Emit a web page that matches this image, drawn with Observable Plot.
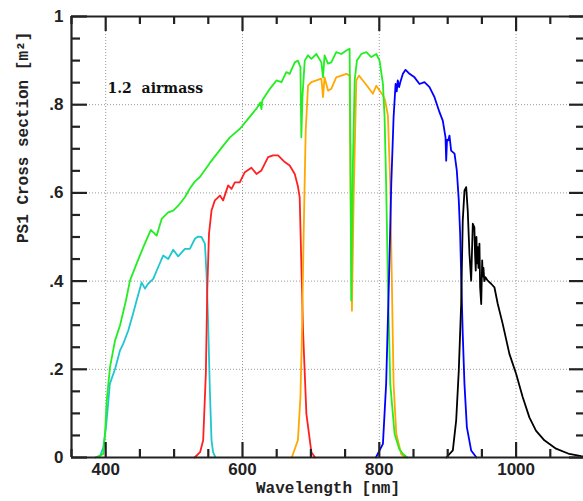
<!DOCTYPE html>
<html><head><meta charset="utf-8">
<script src="https://cdn.jsdelivr.net/npm/d3@7"></script>
<script src="https://cdn.jsdelivr.net/npm/@observablehq/plot@0.6"></script>
<style>body{margin:0;background:#fff} svg{display:block}</style>
</head><body><div id="chart"></div>
<script>
// g (cyan)
const gWave = [385, 392, 396.5, 400.4, 404, 406, 413.6, 421, 425.7, 433, 440, 445, 452.5, 457.4, 462, 469.5, 476.8, 484, 491.4, 498.7, 506, 515.8, 523, 530.4, 535, 540, 545, 547.4, 549.8, 552.3, 554.7, 557, 560];
const gVal  = [0, 0.004, 0.023, 0.069, 0.129, 0.167, 0.2, 0.243, 0.258, 0.288, 0.326, 0.355, 0.397, 0.383, 0.394, 0.405, 0.432, 0.458, 0.45, 0.471, 0.456, 0.473, 0.473, 0.496, 0.501, 0.5, 0.485, 0.417, 0.303, 0.152, 0.039, 0.012, 0.002];
// r (red)
const rWave = [530, 538, 542.5, 546.4, 548.5, 551, 554.7, 559.6, 567, 571.7, 579, 584, 588.8, 596, 603.4, 613, 620.4, 627.7, 637.4, 644.7, 652, 661.8, 669, 676.4, 681, 683.6, 686, 688.5, 693.4, 700.7, 706];
const rVal  = [0, 0.012, 0.039, 0.19, 0.38, 0.507, 0.56, 0.583, 0.594, 0.583, 0.617, 0.609, 0.624, 0.624, 0.647, 0.657, 0.643, 0.651, 0.681, 0.685, 0.685, 0.67, 0.662, 0.643, 0.615, 0.59, 0.44, 0.288, 0.099, 0.012, 0];
// i (orange)
const iWave = [672, 681, 684.7, 687, 689.5, 692.4, 695.8, 700.7, 708, 715.3, 717.7, 720, 725, 729.8, 737, 744.5, 751.8, 756.6, 758, 760, 762.5, 766.4, 770.2, 776, 783.4, 790.6, 795.6, 800.4, 805, 808.5, 812.6, 816, 818.4, 820.9, 824.8, 832, 838];
const iVal  = [0, 0.039, 0.137, 0.288, 0.515, 0.741, 0.843, 0.851, 0.855, 0.859, 0.817, 0.862, 0.832, 0.836, 0.862, 0.866, 0.87, 0.866, 0.6, 0.333, 0.59, 0.855, 0.866, 0.855, 0.84, 0.825, 0.843, 0.832, 0.822, 0.81, 0.775, 0.62, 0.394, 0.167, 0.054, 0.008, 0];
// w (green)
const wWave = [385, 390, 396.5, 399, 401.5, 406.3, 413.6, 421, 429.6, 435.5, 445, 455, 466, 470, 474.5, 481.8, 491.4, 498.7, 506, 515.8, 523, 530, 537.7, 552.3, 569.3, 581.5, 596, 606, 620.4, 626, 627.7, 629, 640, 649.6, 657, 664, 669, 676.4, 681, 684.7, 686, 687.6, 691, 695.8, 700.7, 708, 715.3, 717.7, 720, 725, 729.8, 737, 744.5, 751.8, 756.6, 757.8, 759, 760, 761.4, 764, 767.3, 773.7, 781, 788.3, 795.6, 800.4, 805.3, 807.7, 810, 812.6, 816, 822.3, 829, 834.5, 841];
const wVal  = [0, 0.003, 0.008, 0.054, 0.129, 0.205, 0.265, 0.3, 0.356, 0.401, 0.439, 0.477, 0.516, 0.51, 0.503, 0.541, 0.556, 0.56, 0.571, 0.59, 0.61, 0.625, 0.636, 0.668, 0.702, 0.726, 0.745, 0.764, 0.791, 0.805, 0.79, 0.81, 0.836, 0.855, 0.851, 0.874, 0.87, 0.896, 0.9, 0.885, 0.726, 0.817, 0.9, 0.912, 0.904, 0.915, 0.896, 0.862, 0.912, 0.893, 0.896, 0.919, 0.915, 0.923, 0.927, 0.7, 0.356, 0.5, 0.666, 0.855, 0.9, 0.915, 0.919, 0.908, 0.915, 0.9, 0.847, 0.772, 0.62, 0.394, 0.167, 0.054, 0.02, 0.008, 0];
// z (blue)
const zWave = [795, 805.3, 810, 814, 817.5, 820.9, 823.8, 825.5, 827, 829, 830.7, 834.5, 838.4, 844.2, 851.5, 858.8, 866, 873.4, 880.7, 888, 892.8, 896.8, 897.8, 899, 900.7, 902.6, 905, 910, 913.3, 916.2, 918.2, 920, 922, 924.5, 928, 934.3, 942];
const zVal  = [0, 0.031, 0.167, 0.394, 0.62, 0.772, 0.847, 0.83, 0.855, 0.84, 0.851, 0.87, 0.879, 0.87, 0.862, 0.847, 0.851, 0.84, 0.817, 0.783, 0.764, 0.726, 0.673, 0.72, 0.719, 0.73, 0.696, 0.689, 0.651, 0.583, 0.507, 0.394, 0.28, 0.167, 0.069, 0.016, 0];
// y (black)
const yWave = [898, 907.5, 912.4, 916.2, 919.7, 922, 924.5, 927, 929.3, 931.8, 934.3, 936.7, 939, 940, 941, 942, 943, 944, 945, 946.4, 947.4, 949, 950.4, 951.3, 952.3, 953.5, 955.2, 958.5, 963.5, 968.3, 973.2, 980.4, 990.2, 1000, 1009.6, 1019.4, 1029, 1041.3, 1058.4, 1077.8, 1095, 1100];
const yVal  = [0, 0.016, 0.084, 0.197, 0.348, 0.537, 0.605, 0.613, 0.56, 0.462, 0.401, 0.53, 0.522, 0.46, 0.424, 0.5, 0.44, 0.477, 0.43, 0.485, 0.386, 0.348, 0.447, 0.41, 0.43, 0.4, 0.409, 0.401, 0.394, 0.386, 0.348, 0.303, 0.235, 0.19, 0.137, 0.091, 0.061, 0.039, 0.02, 0.008, 0.003, 0.002];

const filterNames  = ["g", "r", "i", "w", "z", "y"];
const filterColors = ["#1fc6d0", "#ff2020", "#ffa800", "#22ee22", "#0000ff", "#000000"];

const xMajor = [400, 600, 800, 1000];
const xMinor = [350, 450, 500, 550, 650, 700, 750, 850, 900, 950, 1050, 1100];
const yMajor = [0, 0.2, 0.4, 0.6, 0.8, 1];
const yMinor = [0.05, 0.1, 0.15, 0.25, 0.3, 0.35, 0.45, 0.5, 0.55, 0.65, 0.7, 0.75, 0.85, 0.9, 0.95];
const yTickLabels = ["0", ".2", ".4", ".6", ".8", "1"];
const xTitle = "Wavelength [nm]";
const yTitle = "PS1 Cross section [m²]";
const note = "1.2\u00a0 airmass";

const series = {
  g: [gWave, gVal], r: [rWave, rVal], i: [iWave, iVal],
  w: [wWave, wVal], z: [zWave, zVal], y: [yWave, yVal]
};
const lineMarks = filterNames.map((name, k) => {
  const [w, v] = series[name];
  const rows = w.map((x, j) => ({wave: x, value: v[j]}));
  return Plot.line(rows, {x: "wave", y: "value", stroke: filterColors[k], strokeWidth: 1.8});
});

// frame geometry (pixels)
const W = 583, H = 501, mL = 71, mR = -1, mT = 16, mB = 44;
const fw = W - mL - mR, fh = H - mT - mB;
const majorLen = 15, minorLen = 8;
const axisStroke = "#222";
const tk = {stroke: axisStroke, strokeWidth: 2.2};

const plot = Plot.plot({
  width: W, height: H,
  marginLeft: mL, marginRight: mR, marginTop: mT, marginBottom: mB,
  x: {domain: [350, 1100]},
  y: {domain: [0, 1]},
  style: {fontFamily: "Liberation Sans", background: "white", color: "#222"},
  marks: [
    Plot.gridX(xMajor, {stroke: "#999", strokeOpacity: 1, strokeDasharray: "1,2"}),
    Plot.gridY(yMajor.slice(1, 5), {stroke: "#999", strokeOpacity: 1, strokeDasharray: "1,2"}),
    ...lineMarks,
    // inward ticks on all four sides (pixel insets from the frame)
    Plot.tickX(xMajor, {insetTop: fh - majorLen, ...tk}),
    Plot.tickX(xMinor, {insetTop: fh - minorLen, ...tk}),
    Plot.tickX(xMajor, {insetBottom: fh - majorLen, ...tk}),
    Plot.tickX(xMinor, {insetBottom: fh - minorLen, ...tk}),
    Plot.tickY(yMajor, {insetRight: fw - majorLen - 1, ...tk}),
    Plot.tickY(yMinor, {insetRight: fw - minorLen - 1, ...tk}),
    Plot.tickY(yMajor, {insetLeft: fw - majorLen, ...tk}),
    Plot.tickY(yMinor, {insetLeft: fw - minorLen, ...tk}),
    // frame
    Plot.ruleX([350], {stroke: axisStroke, strokeWidth: 2.2}),
    Plot.ruleY([0, 1], {stroke: axisStroke, strokeWidth: 2.2}),
    // tick labels
    Plot.axisX(xMajor, {anchor: "bottom", tickSize: 0, tickPadding: 5, fontSize: 17, fontWeight: "bold", label: null, tickFormat: d => String(d)}),
    Plot.axisY(yMajor, {anchor: "left", tickSize: 0, tickPadding: 8, fontSize: 17, fontWeight: "bold", label: null,
      tickFormat: d => yTickLabels[yMajor.indexOf(d)]}),
    // titles
    Plot.text([xTitle], {text: d => d, frameAnchor: "bottom", dy: 35, fontFamily: "Liberation Mono", fontWeight: "bold", fontSize: 16, fill: "#222"}),
    Plot.text([yTitle], {text: d => d, frameAnchor: "left", dx: -49, dy: 6, rotate: -90, fontFamily: "Liberation Mono", fontWeight: "bold", fontSize: 16, fill: "#222"}),
    Plot.text([note], {text: d => d, frameAnchor: "top-left", textAnchor: "start", dx: 36, dy: 67, fontFamily: "DejaVu Serif", fontWeight: "bold", fontSize: 14, fill: "#111"})
  ]
});
document.getElementById("chart").appendChild(plot);
</script>
</body></html>
